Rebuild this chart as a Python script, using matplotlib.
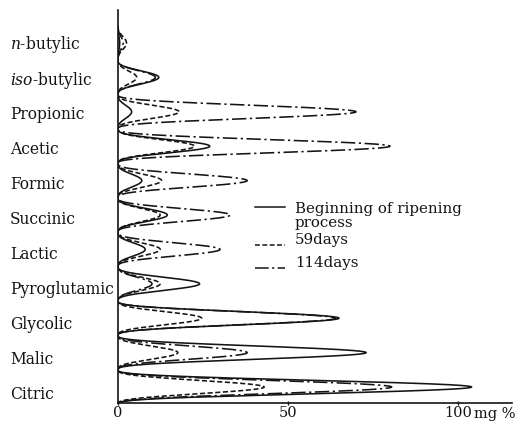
import numpy as np
import matplotlib
matplotlib.use("Agg")
import matplotlib.pyplot as plt
from matplotlib.transforms import blended_transform_factory

plt.rcParams.update({"font.family": ["DejaVu Serif"], "mathtext.fontset": "dejavuserif"})
INK = "#141414"

# organic acids, top to bottom (mg %)
acids = [r"$\it{n}$-butylic", r"$\it{iso}$-butylic", "Propionic", "Acetic", "Formic",
         "Succinic", "Lactic", "Pyroglutamic", "Glycolic", "Malic", "Citric"]
beginning = [0.5, 12, 4, 27, 7, 14.5, 8, 24, 65, 73, 104]
days59 = [2.5, 5.5, 18, 22.5, 12.8, 12.4, 12.4, 12.4, 24.6, 17.6, 43]
days114 = [1.5, 11, 70, 80, 38, 33, 30, 10, 64, 38, 80.5]
xticks = [0, 50, 100]
xticklabels = ["0", "50", "100"]

def trace(vals, y):
    # each acid drawn as a peak (lobe) around its row, like a rotated chromatogram
    x = np.zeros_like(y)
    for i, v in enumerate(vals):
        d = y - i
        m = np.abs(d) <= 0.5
        x[m] += v * np.cos(np.pi * d[m]) ** 3
    return x

y = np.linspace(-0.5, len(acids) - 0.5, 6000)

fig = plt.figure(figsize=(5.16, 4.22), dpi=100)
ax = fig.add_axes([118 / 516, 19 / 422, 394 / 516, 393 / 422])

styles = [(beginning, "-", "Beginning of ripening\nprocess"),
          (days59, (0, (3.2, 1.6)), "59days"),
          (days114, (0, (9, 2.2, 1.4, 2.2)), "114days")]
for vals, ls, lab in styles:
    ax.plot(trace(vals, y), y, color=INK, lw=1.15, ls=ls, solid_capstyle="butt")

ax.set_xlim(0, 394 / 3.4)
ax.set_ylim(10.465, -0.959)
for s in ["top", "right"]:
    ax.spines[s].set_visible(False)
for s in ["left", "bottom"]:
    ax.spines[s].set_color(INK)
    ax.spines[s].set_linewidth(1.2)

ax.set_yticks(-0.03 + 1.0203 * np.arange(len(acids)))
ax.set_yticklabels(acids, ha="left", fontsize=11.2, color=INK)
ax.tick_params(axis="y", length=0, pad=108 * 0.72)
ax.set_xticks(xticks)
ax.set_xticklabels(xticklabels, fontsize=10.5, color=INK)
ax.tick_params(axis="x", length=3, width=1, direction="inout", pad=1, colors=INK)
tb = blended_transform_factory(ax.transData, ax.transAxes)
ax.text(104.6, -0.0095, "mg %", transform=tb, ha="left", va="top", fontsize=10.5, color=INK)

# legend drawn by hand so the solid key sits on the first text line
for (vals, ls, lab), yy in zip(styles, [207, 245, 268]):
    fy = 1 - (yy - 10) / 393
    ax.plot([(255 - 118) / 394, (285 - 118) / 394], [fy, fy], transform=ax.transAxes,
            color=INK, lw=1.1, ls=ls, clip_on=False)
    ax.text((295 - 118) / 394, fy + 0.012, lab, transform=ax.transAxes, ha="left", va="top"
            if "\n" in lab else "center", fontsize=10.8, color=INK, linespacing=0.95)

fig.savefig("out.png", dpi=100, facecolor="white")
